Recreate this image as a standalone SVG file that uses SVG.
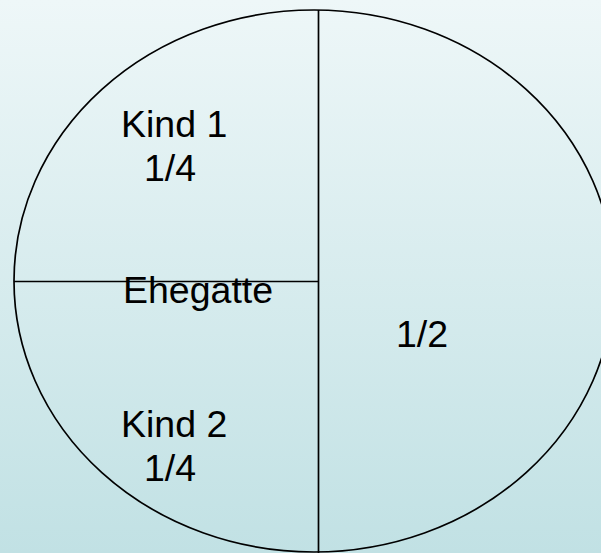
<svg xmlns="http://www.w3.org/2000/svg" width="601" height="553" viewBox="0 0 601 553">
<defs>
<linearGradient id="bg" x1="0" y1="0" x2="0" y2="1">
<stop offset="0" stop-color="#eef7f8"/>
<stop offset="1" stop-color="#c1e1e4"/>
</linearGradient>
<style>
.t{font-family:"Liberation Sans",Arial,sans-serif;font-size:37.5px;fill:#000}
.ln{stroke:#000;stroke-width:1.7;fill:none}
</style>
</defs>
<rect width="601" height="553" fill="url(#bg)"/>
<g id="circle">
<ellipse class="ln" cx="314" cy="281" rx="300" ry="271"/>
</g>
<g id="connectors">
<line class="ln" x1="318.5" y1="10" x2="318.5" y2="553"/>
<line class="ln" x1="14" y1="281.5" x2="318.5" y2="281.5"/>
</g>
<g id="kind1">
<text class="t" x="121" y="137">Kind 1</text>
<text class="t" x="144" y="181">1/4</text>
</g>
<g id="ehegatte">
<text class="t" x="123" y="303">Ehegatte</text>
</g>
<g id="kind2">
<text class="t" x="121" y="437">Kind 2</text>
<text class="t" x="144" y="481">1/4</text>
</g>
<g id="half">
<text class="t" x="396" y="347">1/2</text>
</g>
</svg>
